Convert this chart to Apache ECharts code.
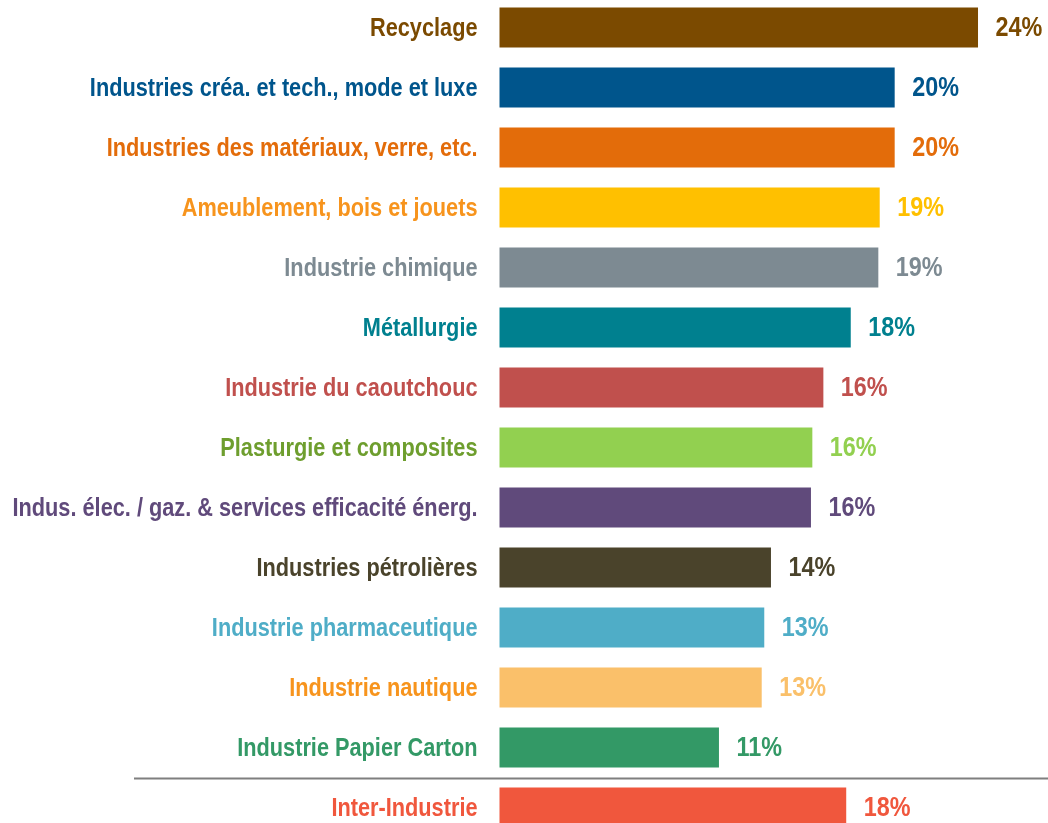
<!DOCTYPE html>
<html>
<head>
<meta charset="utf-8">
<script src="https://cdn.jsdelivr.net/npm/echarts@6/dist/echarts.min.js"></script>
<style>
html,body{margin:0;padding:0;background:#fff;}
#chart{width:1048px;height:823px;}
</style>
</head>
<body>
<div id="chart"></div>
<script>
const categories = [
  'Recyclage',
  'Industries créa. et tech., mode et luxe',
  'Industries des matériaux, verre, etc.',
  'Ameublement, bois et jouets',
  'Industrie chimique',
  'Métallurgie',
  'Industrie du caoutchouc',
  'Plasturgie et composites',
  'Indus. élec. / gaz. & services efficacité énerg.',
  'Industries pétrolières',
  'Industrie pharmaceutique',
  'Industrie nautique',
  'Industrie Papier Carton',
  'Inter-Industrie'
];
const values = [24.29, 20.06, 20.06, 19.30, 19.23, 17.83, 16.44, 15.88, 15.81, 13.78, 13.44, 13.31, 11.14, 17.60];
const barColors = ['#7B4A00','#00558C','#E36C0A','#FFC000','#7D8A92','#00808F','#C0504D','#92D050','#604A7B','#4A432B','#4FADC7','#FAC06A','#339966','#F0573D'];
const catLabelColors = ['#7B4A00','#00558C','#E36C0A','#F7941D','#7D8A92','#00808F','#C0504D','#6E9E2E','#604A7B','#4A432B','#4FADC7','#F7941D','#339966','#F0573D'];
const valueLabelColors = ['#7B4A00','#00558C','#E36C0A','#FFC000','#7D8A92','#00808F','#C0504D','#92D050','#604A7B','#4A432B','#4FADC7','#FAC06A','#339966','#F0573D'];

const FONT_FAMILY = "'Liberation Sans', Arial, sans-serif";
const NARROW = 0.82;
const PX_PER_UNIT = 19.7;
const XMAX = 27;

const chart = echarts.init(document.getElementById('chart'), null, {renderer: 'canvas'});
chart.setOption({
  animation: false,
  backgroundColor: '#ffffff',
  grid: {left: 499.5, top: -2.5, height: 840, width: XMAX * PX_PER_UNIT, containLabel: false, outerBoundsMode: 'none'},
  xAxis: {type: 'value', min: 0, max: XMAX, show: false},
  yAxis: {
    type: 'category', inverse: true, data: categories,
    axisLine: {show: false}, axisTick: {show: false}, splitLine: {show: false},
    axisLabel: {show: false}
  },
  series: [{
    type: 'bar',
    barWidth: 40,
    data: values.map((v, i) => ({value: v, itemStyle: {color: barColors[i]}}))
  }, {
    // category labels (narrow bold text, right-aligned before the bars)
    type: 'custom',
    clip: false,
    silent: true,
    data: categories.map((c, i) => [0, i]),
    renderItem: (params, api) => {
      const i = params.dataIndex;
      const pt = api.coord([0, api.value(1)]);
      return {
        type: 'text',
        x: pt[0] - 22, y: pt[1] + 1.5,
        scaleX: NARROW,
        style: {
          text: categories[i],
          align: 'right', verticalAlign: 'middle',
          fontFamily: FONT_FAMILY, fontWeight: 'bold', fontSize: 26.5,
          fill: catLabelColors[i]
        }
      };
    }
  }, {
    // value labels at the end of each bar
    type: 'custom',
    clip: false,
    silent: true,
    data: values.map((v, i) => [v, i]),
    renderItem: (params, api) => {
      const i = params.dataIndex;
      const v = api.value(0);
      const pt = api.coord([v, api.value(1)]);
      return {
        type: 'text',
        x: pt[0] + 17.5, y: pt[1] + 1,
        scaleX: NARROW,
        style: {
          text: Math.round(v) + '%',
          align: 'left', verticalAlign: 'middle',
          fontFamily: FONT_FAMILY, fontWeight: 'bold', fontSize: 28.5,
          fill: valueLabelColors[i]
        }
      };
    }
  }]
});

const yA = chart.convertToPixel({yAxisIndex: 0}, categories[categories.length - 2]);
const yB = chart.convertToPixel({yAxisIndex: 0}, categories[categories.length - 1]);
const sepY = Math.round((yA + yB) / 2) + 0.5;
chart.setOption({
  graphic: [{
    type: 'line',
    shape: {x1: 134, y1: sepY, x2: 1048, y2: sepY},
    style: {stroke: '#7f7f7f', lineWidth: 2}
  }]
});
</script>
</body>
</html>
